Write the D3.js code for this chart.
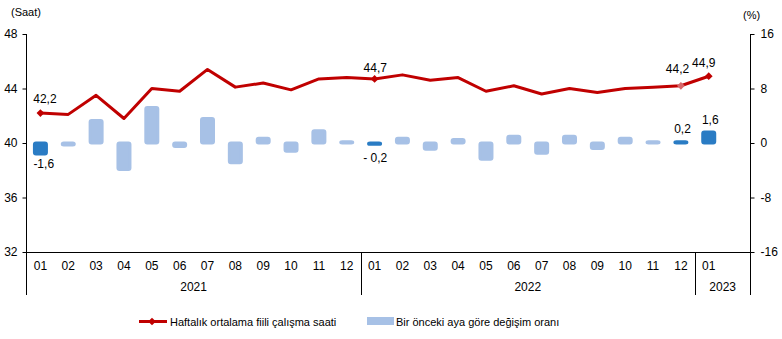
<!DOCTYPE html>
<html>
<head>
<meta charset="utf-8">
<script src="https://cdn.jsdelivr.net/npm/d3@7"></script>
<style>
  body { margin: 0; background: #fff; }
  text { font-family: "Liberation Sans", Arial, sans-serif; fill: #000; }
</style>
</head>
<body>
<svg id="chart" width="782" height="339"></svg>
<script>
// Monthly categories
const months = ["01","02","03","04","05","06","07","08","09","10","11","12",
                "01","02","03","04","05","06","07","08","09","10","11","12",
                "01"];
const yearLabels = ["2021", "2022", "2023"];
const yearMonthCounts = [12, 12, 1];

// Weekly average actual working hours (Saat)
const hours = [42.2, 42.1, 43.5, 41.8, 44.0, 43.8, 45.4, 44.1, 44.4, 43.9, 44.7, 44.8,
               44.7, 45.0, 44.6, 44.8, 43.8, 44.2, 43.6, 44.0, 43.7, 44.0, 44.1, 44.2,
               44.9];

// Change on previous month (%)
const changes = [-1.6, -0.3, 3.3, -3.9, 5.2, -0.5, 3.6, -2.9, 0.7, -1.2, 1.8, 0.2,
                 -0.2, 0.7, -0.9, 0.5, -2.4, 1.0, -1.5, 1.0, -0.8, 0.7, 0.2, 0.2,
                 1.6];

// Months whose values are annotated
const highlighted = [0, 12, 23, 24];
const hourLabels = ["42,2", "44,7", "44,2", "44,9"];
const changeLabels = ["-1,6", "- 0,2", "0,2", "1,6"];

const hourTicks = [32, 36, 40, 44, 48];
const changeTicks = [-16, -8, 0, 8, 16];

const svg = d3.select("#chart");
const plotLeft = 26.5, plotRight = 750.5, plotTop = 34, plotBottom = 252, lowerEdge = 295;

const lineColor = "#C00000";
const lineColorSoft = "#D8686B";
const barColor = "#A7C1E6";
const barColorDark = "#2A7CC4";
const fontFamily = '"Liberation Sans", Arial, sans-serif';

// one empty slot after the last month
const slots = d3.range(months.length + 1);
const x = d3.scaleBand().domain(slots).range([plotLeft, plotRight]);
const cx = i => x(i) + x.bandwidth() / 2;
const yL = d3.scaleLinear().domain([32, 48]).range([plotBottom, plotTop]);
const yR = d3.scaleLinear().domain([-16, 16]).range([plotBottom, plotTop]);

// Left axis
const gL = svg.append("g").attr("transform", `translate(${plotLeft},0)`)
  .call(d3.axisLeft(yL).tickValues(hourTicks).tickSize(4).tickPadding(5).tickSizeOuter(0));
gL.select(".domain").remove();
gL.selectAll("text").attr("font-size", 12).style("font-family", fontFamily);
gL.selectAll("line").attr("stroke", "#000");

// Right axis (plain hyphen for negatives)
const gR = svg.append("g").attr("transform", `translate(${plotRight},0)`)
  .call(d3.axisRight(yR).tickValues(changeTicks).tickFormat(d => String(d))
    .tickSize(4).tickPadding(6).tickSizeOuter(0));
gR.select(".domain").remove();
gR.selectAll("text").attr("font-size", 12).style("font-family", fontFamily);
gR.selectAll("line").attr("stroke", "#000");

// Vertical axis lines, extended down through the category area
[plotLeft, plotRight].forEach(px => {
  svg.append("line").attr("x1", px).attr("x2", px)
    .attr("y1", plotTop).attr("y2", lowerEdge).attr("stroke", "#000").attr("stroke-width", 1);
});

// Bottom axis with month labels
const gB = svg.append("g").attr("transform", `translate(0,${plotBottom})`)
  .call(d3.axisBottom(x).tickSize(0).tickPadding(9).tickFormat(i => months[i] || ""));
gB.select(".domain").attr("d", `M${plotLeft},0.5H${plotRight}`).attr("stroke", "#000");
gB.selectAll("text").attr("font-size", 12).style("font-family", fontFamily);

// Year groups and separators
let groupStart = 0;
yearLabels.forEach((yr, k) => {
  const groupEnd = groupStart + yearMonthCounts[k];
  const x0 = x(groupStart);
  const x1 = k === yearLabels.length - 1 ? plotRight : x(groupEnd);
  svg.append("text").attr("x", (x0 + x1) / 2).attr("y", 291)
    .attr("text-anchor", "middle").attr("font-size", 12).text(yr);
  if (k > 0) {
    svg.append("line").attr("x1", Math.round(x0) + 0.5).attr("x2", Math.round(x0) + 0.5)
      .attr("y1", plotBottom).attr("y2", lowerEdge).attr("stroke", "#000");
  }
  groupStart = groupEnd;
});

// Axis titles
svg.append("text").attr("x", 11).attr("y", 16).attr("font-size", 11).text("(Saat)");
svg.append("text").attr("x", 743).attr("y", 19).attr("font-size", 11).text("(%)");

// Bars of monthly change
svg.append("g").selectAll("rect").data(changes).join("rect")
  .attr("x", (d, i) => cx(i) - 6)
  .attr("width", 12)
  .attr("y", d => Math.min(yR(d), yR(0)))
  .attr("height", d => Math.abs(yR(d) - yR(0)))
  .attr("rx", 1.5)
  .attr("fill", (d, i) => highlighted.includes(i) ? barColorDark : barColor)
  .attr("stroke", (d, i) => highlighted.includes(i) ? barColorDark : barColor)
  .attr("stroke-width", 3)
  .attr("stroke-linejoin", "round");

// Hours line
svg.append("path").datum(hours)
  .attr("d", d3.line().x((d, i) => cx(i)).y(d => yL(d)))
  .attr("fill", "none").attr("stroke", lineColor).attr("stroke-width", 3)
  .attr("stroke-linejoin", "round");

// Markers on annotated months
const diamond = d3.symbol(d3.symbolSquare, 30)();
highlighted.forEach(i => {
  svg.append("path").attr("d", diamond)
    .attr("transform", `translate(${cx(i)},${yL(hours[i])}) rotate(45)`)
    .attr("fill", i === 23 ? lineColorSoft : lineColor);
});

// Value annotations
const hourNudge = [[4.5, -10], [0.7, -7], [-3.4, -12.7], [-5, -9]];
highlighted.forEach((i, k) => {
  svg.append("text").attr("x", cx(i) + hourNudge[k][0]).attr("y", yL(hours[i]) + hourNudge[k][1])
    .attr("text-anchor", "middle").attr("font-size", 12).text(hourLabels[k]);
});
const changeNudge = [[3.3, 14.4], [0.7, 17.3], [1.6, -8.3], [1.5, -8.1]];
highlighted.forEach((i, k) => {
  svg.append("text").attr("x", cx(i) + changeNudge[k][0]).attr("y", yR(changes[i]) + changeNudge[k][1])
    .attr("text-anchor", "middle").attr("font-size", 12).text(changeLabels[k]);
});

// Legend
const lg = svg.append("g");
lg.append("line").attr("x1", 139).attr("x2", 167).attr("y1", 321.5).attr("y2", 321.5)
  .attr("stroke", lineColor).attr("stroke-width", 3);
lg.append("path").attr("d", diamond).attr("transform", "translate(152,321.5) rotate(45)")
  .attr("fill", lineColor);
lg.append("text").attr("x", 170).attr("y", 325.5).attr("font-size", 11)
  .text("Haftalık ortalama fiili çalışma saati");
lg.append("rect").attr("x", 367).attr("y", 317).attr("width", 27).attr("height", 8)
  .attr("fill", barColor);
lg.append("text").attr("x", 396).attr("y", 325.5).attr("font-size", 11)
  .text("Bir önceki aya göre değişim oranı");
</script>
</body>
</html>
